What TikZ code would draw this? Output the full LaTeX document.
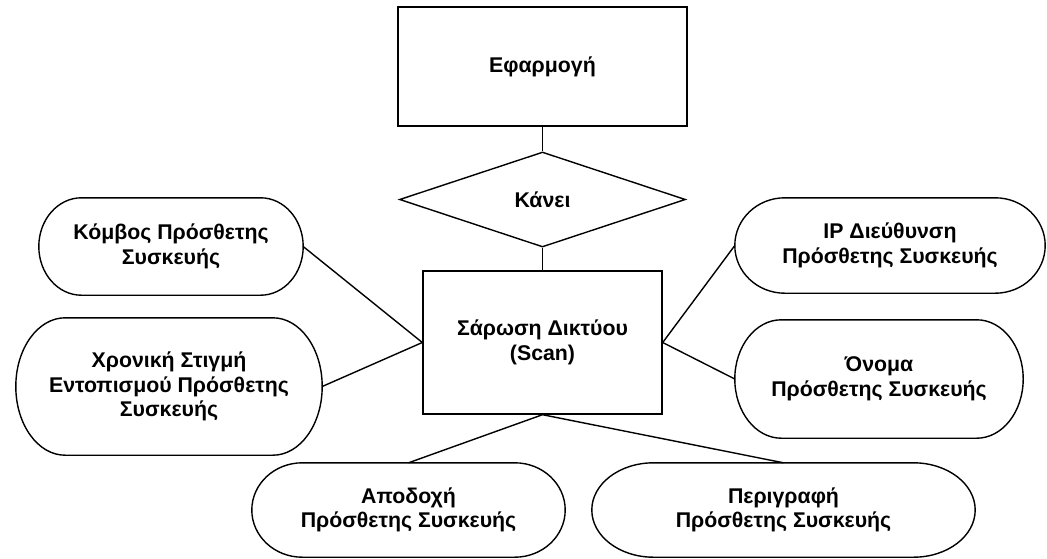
\documentclass[tikz,border=0pt]{standalone}
\usepackage{fontspec}
\setmainfont{Liberation Sans}
\usetikzlibrary{shapes.geometric,calc}
\tikzset{
  lbl/.style={font=\bfseries\fontsize{21.3}{24.5}\selectfont, align=center, inner sep=0pt},
  boxnode/.style={lbl, draw, rectangle, line width=1.4pt},
  term/.style={lbl, rectangle},
  rel/.style={lbl, draw, diamond, line width=1.4pt},
  conn/.style={line width=1.4pt},
  outline/.style={line width=1.4pt}
}
\newcommand\termoutline[1]{%
  \draw[outline] let \p1=(#1.north west), \p2=(#1.south east),
    \n1={0.161*(\x2-\x1)}, \n2={0.5*(\y1-\y2)} in
    (\x1+\n1,\y1) -- (\x2-\n1,\y1)
    arc[start angle=90,end angle=-90,x radius=\n1,y radius=\n2]
    -- (\x1+\n1,\y2)
    arc[start angle=270,end angle=90,x radius=\n1,y radius=\n2] -- cycle;}
\begin{document}
\begin{tikzpicture}[x=1pt,y=-1pt]
\useasboundingbox (0,0) rectangle (1047,558);
\node[boxnode, minimum width=289pt, minimum height=119pt] (app) at (542.5,66.5) {Εφαρμογή};
\node[rel, minimum width=286pt, minimum height=95pt] (does) at (542.5,199.5) {Κάνει};
\node[boxnode, minimum width=239pt, minimum height=143pt] (scan) at (542.5,342.5) {Σάρωση Δικτύου\\(Scan)};
\node[term, minimum width=264pt, minimum height=97pt] (kn) at (171,246.5) {Κόμβος Πρόσθετης\\Συσκευής};
\node[term, minimum width=306pt, minimum height=137pt] (time) at (169,386.5) {Χρονική Στιγμή\\Εντοπισμού Πρόσθετης\\Συσκευής};
\node[term, minimum width=310pt, minimum height=95pt] (ip) at (890,245.5) {IP Διεύθυνση\\Πρόσθετης Συσκευής};
\node[term, minimum width=288pt, minimum height=118pt] (nm) at (879,379) {Όνομα\\Πρόσθετης Συσκευής};
\node[term, minimum width=313pt, minimum height=94pt] (acc) at (408.5,510) {Αποδοχή\\Πρόσθετης Συσκευής};
\node[term, minimum width=383pt, minimum height=94pt] (desc) at (783.5,510) {Περιγραφή\\Πρόσθετης Συσκευής};
\termoutline{kn}
\termoutline{time}
\termoutline{ip}
\termoutline{nm}
\termoutline{acc}
\termoutline{desc}
\draw[conn] (app.south) -- (does.north);
\draw[conn] (does.south) -- (scan.north);
\draw[conn] (kn.east) -- (scan.west);
\draw[conn] (time.east) -- (scan.west);
\draw[conn] (ip.west) -- (scan.east);
\draw[conn] (nm.west) -- (scan.east);
\draw[conn] (scan.south) -- (acc.north);
\draw[conn] (scan.south) -- (desc.north);
\end{tikzpicture}
\end{document}
